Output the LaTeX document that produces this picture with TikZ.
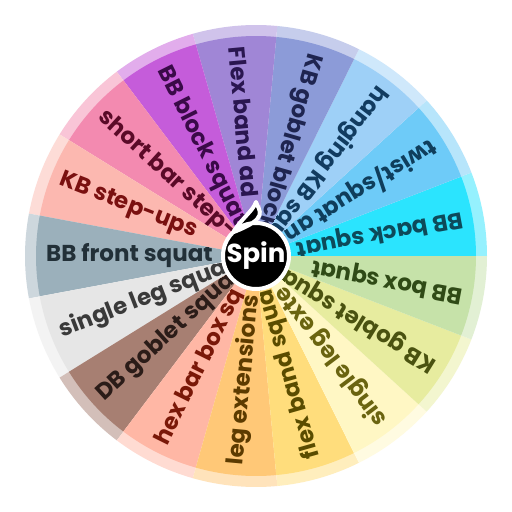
\documentclass[tikz,border=0pt]{standalone}
\usepackage{fontspec}
\setmainfont{Poppins}
\usepackage{tikz}
\definecolor{WCyan}{HTML}{2BE4FE}     \definecolor{WCyanTxt}{HTML}{0D4A5A}
\definecolor{WSky}{HTML}{6ECBF8}      \definecolor{WSkyTxt}{HTML}{0F3E5C}
\definecolor{WIce}{HTML}{9ED0F7}      \definecolor{WIceTxt}{HTML}{123C60}
\definecolor{WPeri}{HTML}{8C9BD8}     \definecolor{WPeriTxt}{HTML}{1F2550}
\definecolor{WLilac}{HTML}{A086D6}    \definecolor{WLilacTxt}{HTML}{2A1650}
\definecolor{WMagenta}{HTML}{C55CDA}  \definecolor{WMagentaTxt}{HTML}{3A0A48}
\definecolor{WPink}{HTML}{F38AB0}     \definecolor{WPinkTxt}{HTML}{5A0A28}
\definecolor{WRose}{HTML}{FCB8B0}     \definecolor{WRoseTxt}{HTML}{7A1010}
\definecolor{WSlate}{HTML}{9BB0BB}    \definecolor{WSlateTxt}{HTML}{223038}
\definecolor{WGray}{HTML}{E6E6E6}     \definecolor{WGrayTxt}{HTML}{3A3A3A}
\definecolor{WBrown}{HTML}{A77F72}    \definecolor{WBrownTxt}{HTML}{2B1C18}
\definecolor{WSalmon}{HTML}{FFB7A5}   \definecolor{WSalmonTxt}{HTML}{7A1808}
\definecolor{WOrange}{HTML}{FFC877}   \definecolor{WOrangeTxt}{HTML}{5C3B00}
\definecolor{WYellow}{HTML}{FFDD7C}   \definecolor{WYellowTxt}{HTML}{5A4C00}
\definecolor{WCream}{HTML}{FFF7C4}    \definecolor{WCreamTxt}{HTML}{6A6410}
\definecolor{WLime}{HTML}{E7EC9F}     \definecolor{WLimeTxt}{HTML}{4A5210}
\definecolor{WGreen}{HTML}{C6E2A9}    \definecolor{WGreenTxt}{HTML}{2F4A16}

\begin{document}
\begin{tikzpicture}[x=1pt, y=1pt,
                    segtext/.style={anchor=west, inner sep=0pt,
                                    font=\bfseries\fontsize{23}{23}\selectfont},
                    spinbtn/.style={fill=black, draw=white, line width=4pt, line join=round}]
\useasboundingbox (-256,-256) rectangle (256,256);
\fill[white] (-256,-256) rectangle (256,256);
\foreach \i/\segc/\lbl in {0/WCyan/BB back squat, 1/WSky/{twist/squat and}, 2/WIce/hanging KB squat,
    3/WPeri/KB goblet block, 4/WLilac/Flex band ad, 5/WMagenta/BB block squat,
    6/WPink/short bar step-, 7/WRose/KB step-ups, 8/WSlate/BB front squat,
    9/WGray/single leg squat, 10/WBrown/DB goblet squat, 11/WSalmon/hex bar box sq,
    12/WOrange/leg extensions, 13/WYellow/flex band squats, 14/WCream/single leg exte,
    15/WLime/KB goblet squats, 16/WGreen/BB box squat}{
  \pgfmathsetmacro\sa{\i*360/17}
  \pgfmathsetmacro\ea{(\i+1)*360/17}
  \pgfmathsetmacro\ma{(\i+0.5)*360/17}
  \fill[\segc!50!white] (0,0) -- (\sa:231) arc[start angle=\sa, end angle=\ea, radius=231] -- cycle;
  \fill[\segc] (0,0) -- (\sa:220) arc[start angle=\sa, end angle=\ea, radius=220] -- cycle;
  \begin{scope}
    \clip (0,0) -- (\sa:220) arc[start angle=\sa, end angle=\ea, radius=220] -- cycle;
    \node[segtext, text=\segc Txt, rotate=\ma+180] (seg\i) at (\ma:210) {\lbl};
  \end{scope}
}
% spin button
\draw[spinbtn] (0,54) .. controls (-3,45) and (-14,38) .. (134:33)
  arc[start angle=134, end angle=-226, radius=33]
  .. controls (14,38) and (3,45) .. (0,54) -- cycle;
\node[text=white, font=\bfseries\fontsize{26}{26}\selectfont] (spin) at (0,0) {Spin};
\end{tikzpicture}
\end{document}
